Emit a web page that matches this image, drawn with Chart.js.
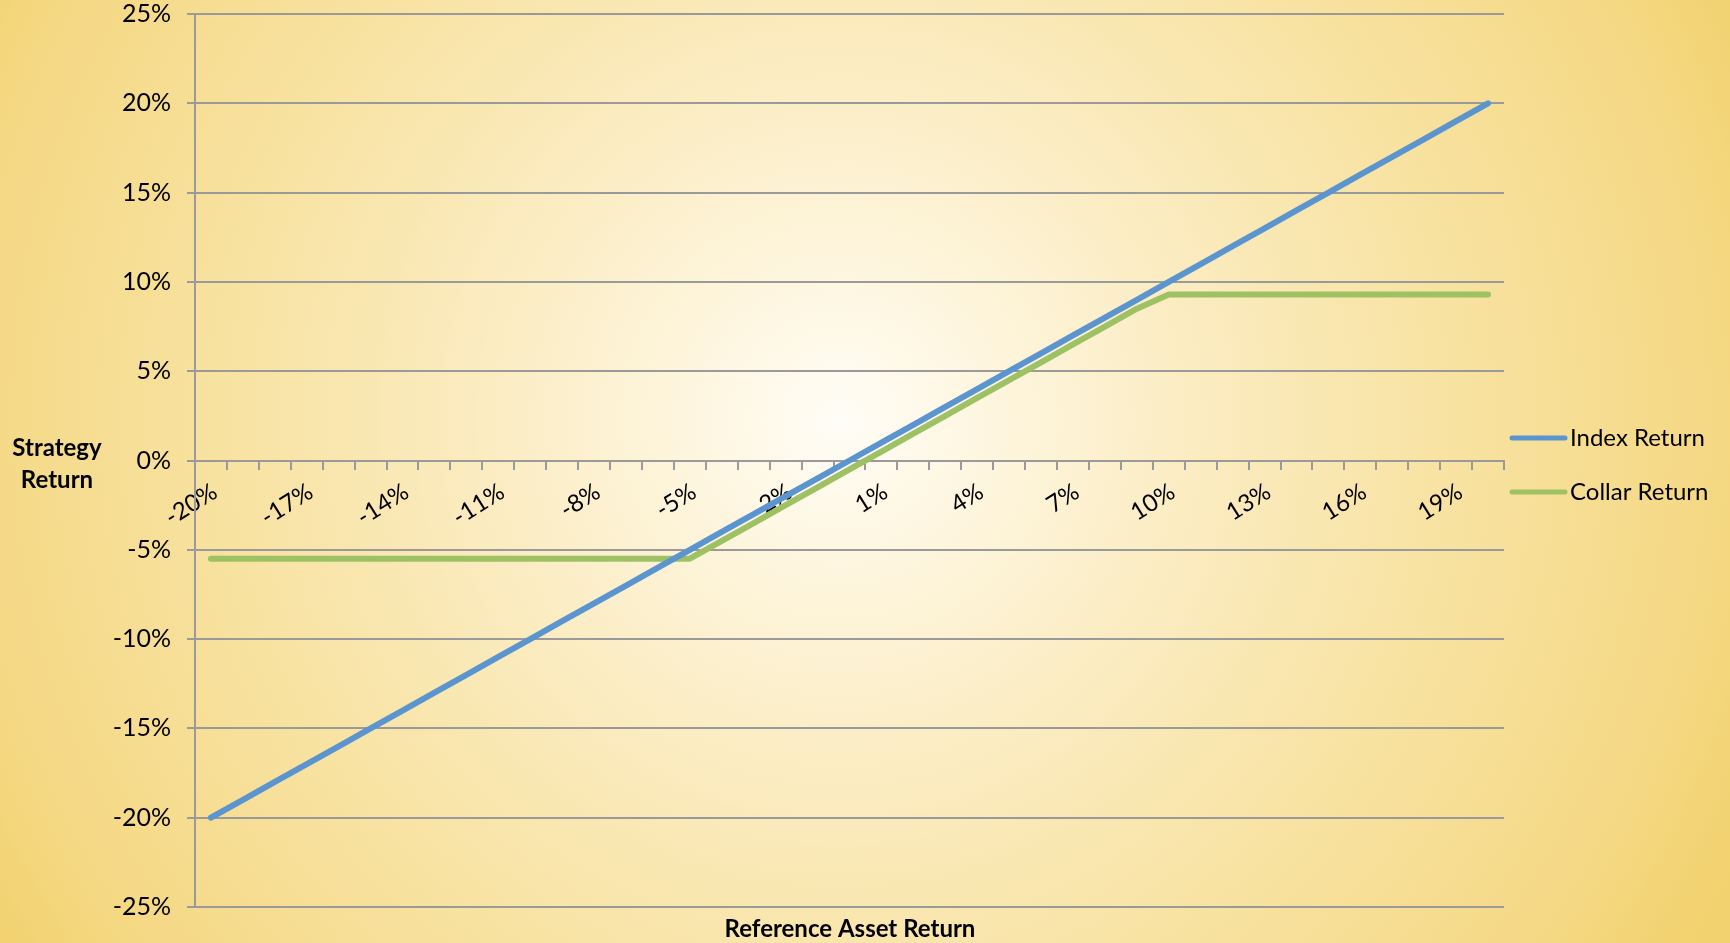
<!DOCTYPE html>
<html lang="en">
<head>
  <meta charset="UTF-8">
  <title>Collar Return</title>
  <script src="https://cdn.jsdelivr.net/npm/chart.js@4.4.0/dist/chart.umd.min.js"></script>
</head>
<style>
*{
    margin: 0px;
    padding: 0px;
    box-sizing: border-box;
}
body{
    width: 1730px;
    height: 943px;
    overflow: hidden;
}
#payoff{
    display: block;
}
</style>
<body>
  <canvas id="payoff" width="1730" height="943"></canvas>
<script>
// reference asset return (x) and the two strategy payoffs, in %
const assetReturn = [-20, -19, -18, -17, -16, -15, -14, -13, -12, -11, -10, -9, -8, -7, -6, -5, -4, -3, -2, -1, 0,
  1, 2, 3, 4, 5, 6, 7, 8, 9, 10, 11, 12, 13, 14, 15, 16, 17, 18, 19, 20];
const indexReturn = [-20, -19, -18, -17, -16, -15, -14, -13, -12, -11, -10, -9, -8, -7, -6, -5, -4, -3, -2, -1, 0,
  1, 2, 3, 4, 5, 6, 7, 8, 9, 10, 11, 12, 13, 14, 15, 16, 17, 18, 19, 20];
const collarReturn = [-5.5, -5.5, -5.5, -5.5, -5.5, -5.5, -5.5, -5.5, -5.5, -5.5, -5.5, -5.5, -5.5, -5.5, -5.5, -5.5,
  -4.5, -3.5, -2.5, -1.5, -0.5, 0.5, 1.5, 2.5, 3.5, 4.5, 5.5, 6.5, 7.5, 8.5,
  9.3, 9.3, 9.3, 9.3, 9.3, 9.3, 9.3, 9.3, 9.3, 9.3, 9.3];
const yTicks = [-25, -20, -15, -10, -5, 0, 5, 10, 15, 20, 25];

const FONT = "Lato, 'Open Sans', sans-serif";
const GRID = "#9a9a9a";

// gold radial backdrop behind everything
const backdrop = {
  id: "backdrop",
  beforeDraw(chart){
    const c = chart.ctx;
    const w = chart.width, h = chart.height;
    c.save();
    const g = c.createRadialGradient(840, 420, 0, 840, 420, 1000);
    g.addColorStop(0, "#fffdf7");
    g.addColorStop(0.12, "#fef7e3");
    g.addColorStop(0.35, "#fbecc2");
    g.addColorStop(0.6, "#f8e3a3");
    g.addColorStop(0.85, "#f5d987");
    g.addColorStop(1, "#f2d26e");
    c.fillStyle = g;
    c.fillRect(0, 0, w, h);
    c.restore();
  }
};

// axis titles and the legend on the right
const labels = {
  id: "labels",
  afterDraw(chart){
    const c = chart.ctx;
    c.save();
    c.fillStyle = "#000";
    c.font = "bold 24px " + FONT;
    c.textAlign = "center";
    c.textBaseline = "middle";
    c.fillText("Strategy", 57, 448);
    c.fillText("Return", 57, 480);
    c.fillText("Reference Asset Return", 850, 929);

    c.font = "24px " + FONT;
    c.textAlign = "left";
    const rows = [438, 492];
    chart.data.datasets.forEach((ds, i) => {
      c.strokeStyle = ds.borderColor;
      c.lineWidth = 5;
      c.lineCap = "round";
      c.beginPath();
      c.moveTo(1512, rows[i]);
      c.lineTo(1565, rows[i]);
      c.stroke();
      c.fillText(ds.label, 1570, rows[i]);
    });
    c.restore();
  }
};

const config = {
  type: "line",
  data: {
    labels: assetReturn.map(v => v + "%"),
    datasets: [
      {
        label: "Index Return",
        data: indexReturn,
        borderColor: "#5b95d0",
        backgroundColor: "#5b95d0",
      },
      {
        label: "Collar Return",
        data: collarReturn,
        borderColor: "#9dc163",
        backgroundColor: "#9dc163",
      }
    ]
  },
  options: {
    responsive: false,
    animation: false,
    layout: { padding: { left: 0, right: 226, top: 14, bottom: 36 } },
    elements: {
      line: { borderWidth: 6, tension: 0, borderCapStyle: "round", borderJoinStyle: "round" },
      point: { radius: 0, hoverRadius: 0 }
    },
    plugins: {
      legend: { display: false },
      tooltip: { enabled: false }
    },
    scales: {
      x: {
        type: "category",
        position: { y: 0 },
        offset: true,
        grid: { offset: true, drawOnChartArea: false, drawTicks: true, tickLength: 8, color: GRID, lineWidth: 2 },
        border: { display: true, color: GRID, width: 2 },
        ticks: {
          autoSkip: false,
          minRotation: 32,
          maxRotation: 32,
          padding: 9,
          labelOffset: 4,
          color: "#000",
          font: { family: FONT, size: 24 },
          callback: function(value, index){
            return index % 3 === 0 ? this.getLabelForValue(value) : "";
          }
        }
      },
      y: {
        min: -25,
        max: 25,
        afterFit(scale){
          scale.width = 195;
          scale.paddingTop = 0;
          scale.paddingBottom = 0;
        },
        afterBuildTicks(scale){ scale.ticks = yTicks.map(v => ({ value: v })); },
        grid: { color: GRID, lineWidth: 2, tickLength: 8 },
        border: { display: true, color: GRID, width: 2 },
        ticks: {
          padding: 16,
          color: "#000",
          font: { family: FONT, size: 25 },
          callback: v => v + "%"
        }
      }
    }
  },
  plugins: [backdrop, labels]
};

const payoffChart = new Chart(document.getElementById("payoff"), config);
</script>
</body>
</html>
